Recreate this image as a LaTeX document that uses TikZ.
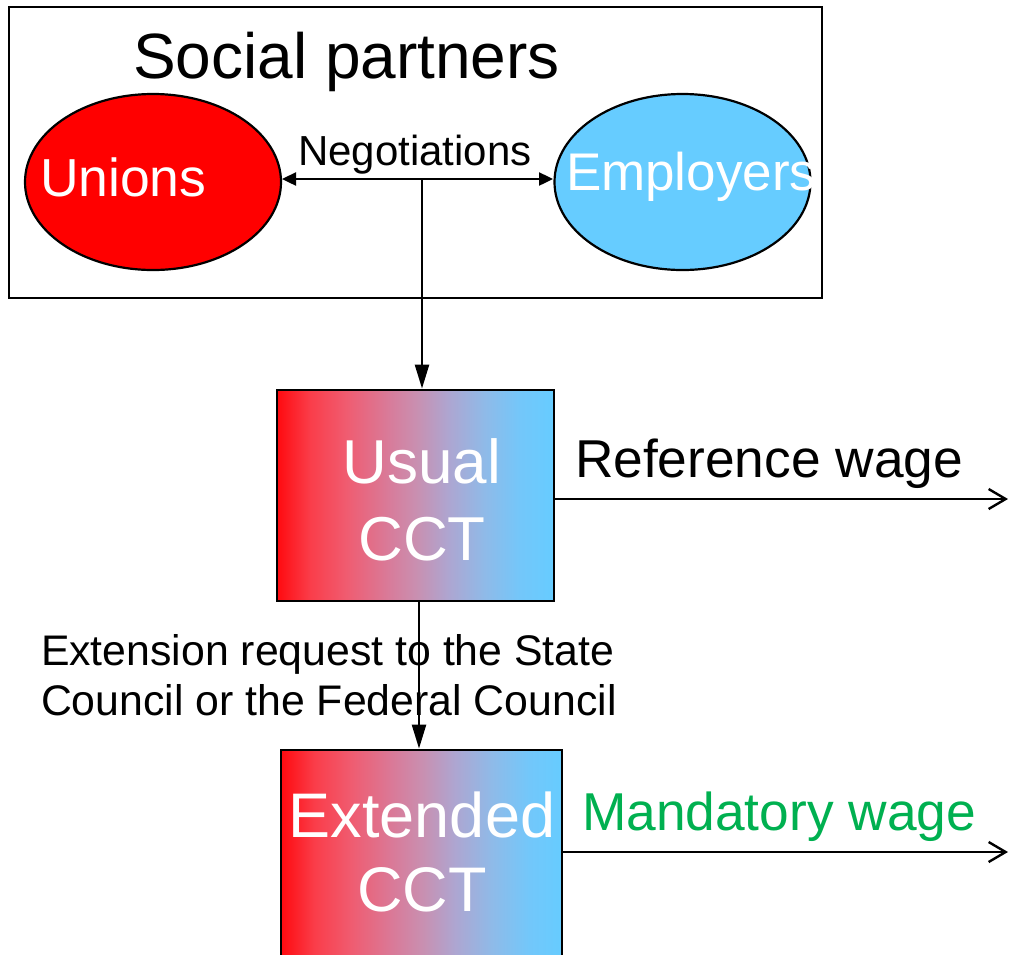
\documentclass[tikz,border=0pt]{standalone}
\usepackage{fontspec}
\setmainfont{Liberation Sans}
\usetikzlibrary{shapes.geometric,arrows.meta}

\definecolor{unionred}{RGB}{255,0,0}
\definecolor{employerblue}{RGB}{102,204,255}
\definecolor{mandgreen}{RGB}{0,176,80}

% red-to-blue blend of the agreement boxes (the 25bp..75bp band is fitted to the box)
\pgfdeclarehorizontalshading{cctblend}{100bp}{%
  rgb(0bp)=(1,0,0);
  rgb(25bp)=(1,0.04,0.06);
  rgb(31bp)=(0.98,0.24,0.29);
  rgb(37.5bp)=(0.94,0.36,0.44);
  rgb(45bp)=(0.85,0.48,0.60);
  rgb(50bp)=(0.79,0.56,0.69);
  rgb(56bp)=(0.68,0.65,0.82);
  rgb(62.5bp)=(0.56,0.73,0.91);
  rgb(69bp)=(0.45,0.78,0.98);
  rgb(75bp)=(0.4,0.8,1);
  rgb(100bp)=(0.4,0.8,1)}

\tikzset{
  frame/.style={draw=black, line width=2.4pt},
  party/.style={ellipse, draw=black, line width=2.2pt, inner sep=0pt,
                minimum width=256pt, minimum height=176pt},
  cctbox/.style={draw=black, line width=2.8pt, inner sep=0pt, shading=cctblend},
  label/.style={inner sep=0pt, outer sep=0pt},
  link/.style={line width=2.4pt},
  fillhead/.style={-{Triangle[length=24pt,width=14pt]}},
  openhead/.style={-{Straight Barb[length=17pt,width=20pt,line width=2.4pt]}},
}

\begin{document}
\begin{tikzpicture}[x=1pt, y=-1pt]
  \useasboundingbox (0,0) rectangle (1011,954);
  \clip (0,0) rectangle (1011,954);

  % social partners frame
  \node[frame, minimum width=813pt, minimum height=291pt, inner sep=0pt] (partners) at (415.5,152.5) {};
  \node[label, anchor=base west, font=\fontsize{64}{70}\selectfont] (title) at (133,78) {Social partners};

  % the two parties
  \node[party, fill=unionred] (unions) at (153,182) {};
  \node[party, fill=employerblue] (employers) at (682.5,182) {};
  \node[label, anchor=base west, text=white, font=\fontsize{53.5}{60}\selectfont] (unionstext) at (40,196) {Unions};
  \node[label, anchor=base west, text=white, font=\fontsize{53}{60}\selectfont] (employerstext) at (566,190) {Employers};

  % negotiations between them
  \coordinate (negL) at (282,179);
  \coordinate (negR) at (553,179);
  \coordinate (negmid) at (422,179);
  \draw[link, {Triangle[length=14pt,width=13pt]}-{Triangle[length=14pt,width=13pt]}] (negL) -- (negR);
  \node[label, anchor=base west, font=\fontsize{42}{50}\selectfont] (negtext) at (298,165) {Negotiations};

  % usual collective agreement
  \node[cctbox, minimum width=277pt, minimum height=211pt] (usual) at (415.5,495.5) {};
  \node[label, align=center, text=white, font=\fontsize{62}{77}\selectfont] (usualtext) at (422,500) {Usual\\CCT};
  \draw[link, fillhead] (negmid) -- (negmid |- usual.north);

  % extended collective agreement
  \node[cctbox, minimum width=281pt, minimum height=250pt] (ext) at (421.5,875) {};
  \node[label, align=center, text=white, font=\fontsize{63}{74}\selectfont] (exttext) at (422,852) {Extended\\CCT};
  \coordinate (downtop) at (419,601);
  \draw[link, fillhead] (downtop) -- (downtop |- ext.north);
  \node[label, anchor=west, align=left, font=\fontsize{42.8}{50}\selectfont] (request) at (41,675)
    {Extension request to the State\\Council or the Federal Council};

  % resulting wages
  \coordinate (refend) at (1008,499);
  \coordinate (mandstart) at (562,852);
  \coordinate (mandend) at (1008,852);
  \draw[link, openhead] (usual.east |- refend) -- (refend);
  \draw[link, openhead] (mandstart) -- (mandend);
  \node[label, anchor=base west, font=\fontsize{53.3}{60}\selectfont] (reftext) at (575,477) {Reference wage};
  \node[label, anchor=base west, text=mandgreen, font=\fontsize{53.3}{60}\selectfont] (mandtext) at (582,830) {Mandatory wage};
\end{tikzpicture}
\end{document}
